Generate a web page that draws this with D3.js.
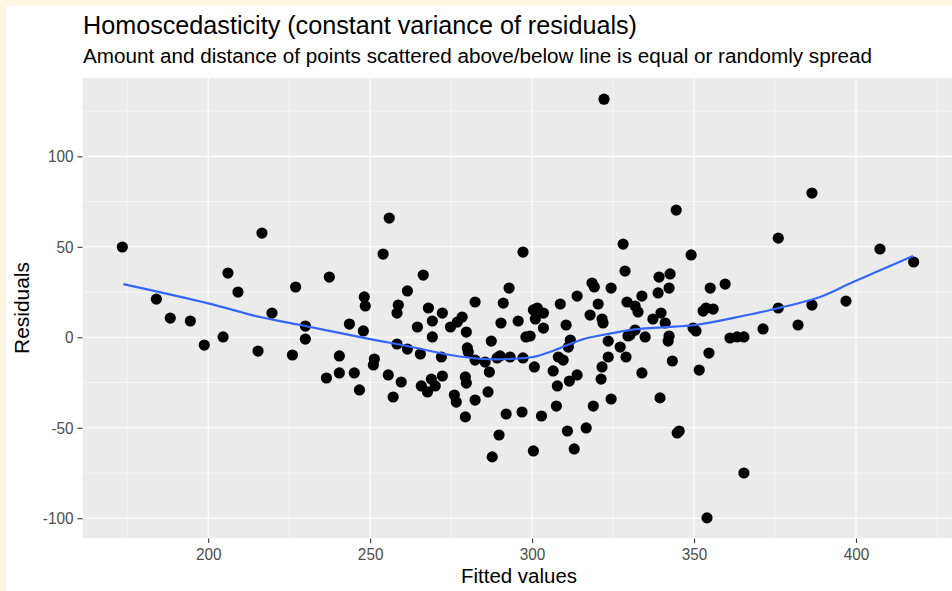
<!DOCTYPE html>
<html>
<head>
<meta charset="utf-8">
<script src="https://cdn.jsdelivr.net/npm/d3@7"></script>
<style>
  body { margin: 0; padding: 0; background: #fdf6e3; }
  svg { display: block; }
  text { font-family: "Liberation Sans", Arial, sans-serif; }
</style>
</head>
<body>
<div id="chart"></div>
<script>

// fitted values (x) and residuals (y)
var fittedValues = [
  173.5, 184.0, 188.3, 194.5, 198.8, 204.6, 206.1, 209.2, 216.6, 215.4,
  219.7, 226.0, 227.0, 230.0, 230.0, 237.4, 236.5, 240.5, 240.5, 243.6,
  245.1, 246.7, 247.9, 248.2, 248.5, 251.3, 251.0, 254.0, 255.9, 255.6,
  258.3, 258.7, 258.3, 259.6, 257.1, 261.5, 261.5, 264.6, 265.5, 265.8,
  266.4, 268.0, 267.7, 268.9, 270.1, 269.2, 269.2, 272.0, 272.3, 272.3,
  274.8, 276.9, 278.4, 276.0, 276.6, 279.7, 280.0, 280.3, 279.4, 279.7,
  279.4, 282.4, 282.4, 282.4, 285.5, 286.8, 286.4, 287.4, 287.7, 289.2,
  290.1, 289.8, 290.4, 291.1, 292.0, 292.9, 293.2, 295.7, 296.9, 297.2,
  297.2, 298.1, 299.4, 300.4, 301.6, 303.5, 301.0, 303.5, 300.7, 300.4,
  302.9, 306.5, 307.8, 307.5, 308.1, 309.6, 308.7, 310.5, 310.9, 311.2,
  311.8, 311.5, 313.0, 313.9, 313.9, 316.7, 317.9, 318.5, 319.2, 318.9,
  320.4, 321.6, 321.9, 321.6, 321.3, 322.2, 323.5, 323.5, 324.4, 324.4,
  327.2, 328.1, 328.7, 329.3, 329.6, 329.0, 331.8, 332.7, 333.9, 331.8,
  330.2, 334.9, 333.9, 337.3, 338.9, 339.2, 339.8, 339.5, 341.1, 342.3,
  342.6, 342.3, 342.0, 343.3, 344.5, 344.8, 345.4, 349.1, 349.7, 350.6,
  351.6, 352.8, 353.7, 355.9, 355.0, 354.6, 354.0, 359.6, 361.1, 363.3,
  365.4, 365.4, 371.3, 376.0, 376.0, 382.1, 386.4, 386.4, 396.9, 407.4,
  417.8
];
var residuals = [
  49.9, 21.1, 10.6, 9.0, -4.3, 0.2, 35.5, 25.0, 57.6, -7.6,
  13.4, -9.8, 27.8, 6.2, -1.0, 33.3, -22.5, -10.3, -19.7, 7.3,
  -19.7, -29.1, 3.5, 22.3, 17.3, -12.0, -15.3, 46.0, 65.9, -20.8,
  13.4, 17.8, -3.7, -24.7, -33.0, 25.6, -6.5, 5.7, -9.2, -26.9,
  34.4, 16.2, -30.2, -23.1, -26.9, 9.0, 0.2, -10.9, 13.4, -21.4,
  5.7, 8.4, 11.2, -31.9, -35.8, 2.9, -5.9, -8.1, -21.9, -25.3,
  -44.0, 19.5, -12.6, -34.7, -13.7, -19.2, -30.2, -2.1, -66.1, -11.4,
  -10.3, -54.0, 7.9, 18.9, -42.4, 27.2, -10.9, 9.0, -41.3, 47.1,
  -11.4, 0.2, 0.7, 15.1, 16.2, 13.4, 10.1, 5.1, -16.4, -62.8,
  -43.5, -18.6, -26.9, -38.0, -10.9, -12.6, 18.4, 6.8, -51.8, -5.4,
  -1.5, -24.2, -61.7, 22.8, -20.8, -50.1, 12.3, 30.0, 27.8, -38.0,
  18.4, 10.1, 7.9, -16.4, -23.1, 131.6, -2.1, -10.9, 27.2, -34.1,
  -5.4, 51.5, 36.6, 19.5, 0.7, -10.9, 17.3, 14.0, 22.8, 4.0,
  1.3, 0.2, -19.7, 10.1, 24.5, 33.3, 13.4, -33.5, 7.9, 27.2,
  35.0, 0.7, -2.1, -13.1, 70.3, -52.9, -51.8, 45.5, 5.1, 3.5,
  -18.1, 14.5, 16.2, 15.6, 27.2, -8.7, -99.8, 29.4, -0.4, 0.2,
  0.2, -75.0, 4.6, 54.8, 16.2, 6.8, 79.7, 17.8, 20.0, 48.8,
  41.6
];

// loess smooth
var smoothX = [173.8, 199.7, 216.0, 228.4, 250.0, 261.4, 274.8, 284.9, 293.2, 300.3,
               305.5, 310.9, 315.8, 323.2, 330.2, 340.0, 350.3, 362.9, 373.5, 388.9,
               399.1, 417.6];
var smoothY = [29.4, 18.9, 11.2, 6.8, -1.0, -4.8, -9.8, -12.0, -12.0, -10.9,
               -8.1, -4.3, -1.0, 1.8, 4.0, 5.5, 6.8, 11.0, 15.1, 22.3,
               30.5, 44.9];

var xTicks = [200, 250, 300, 350, 400];
var xMinor = [175, 225, 275, 325, 375, 425];
var yTicks = [-100, -50, 0, 50, 100];
var yMinor = [-75, -25, 25, 75, 125];

var titleText = "Homoscedasticity (constant variance of residuals)";
var subtitleText = "Amount and distance of points scattered above/below line is equal or randomly spread";

var svgWidth = 952;
var svgHeight = 591;

// panel box in pixels
var panel = { left: 82.5, right: 953.5, top: 78, bottom: 538.5 };

var svg = d3.select("#chart")
  .append("svg")
  .attr("width", svgWidth)
  .attr("height", svgHeight);

// cream frame + white plot area
svg.append("rect")
  .attr("width", svgWidth).attr("height", svgHeight)
  .attr("fill", "#fdf6e3");
svg.append("rect")
  .attr("x", 6).attr("y", 6)
  .attr("width", svgWidth - 6).attr("height", svgHeight - 6)
  .attr("fill", "#ffffff");

var x = d3.scaleLinear()
  .domain([161.2, 430.1])
  .range([panel.left, panel.right]);

var y = d3.scaleLinear()
  .domain([-111.2, 143.3])
  .range([panel.bottom, panel.top]);

svg.append("clipPath").attr("id", "panelClip")
  .append("rect")
  .attr("x", panel.left).attr("y", panel.top)
  .attr("width", panel.right - panel.left)
  .attr("height", panel.bottom - panel.top);

var plot = svg.append("g").attr("clip-path", "url(#panelClip)");

plot.append("rect")
  .attr("x", panel.left).attr("y", panel.top)
  .attr("width", panel.right - panel.left)
  .attr("height", panel.bottom - panel.top)
  .attr("fill", "#ebebeb");

// minor grid
plot.selectAll(".xminor").data(xMinor).enter().append("line")
  .attr("x1", d => x(d)).attr("x2", d => x(d))
  .attr("y1", panel.top).attr("y2", panel.bottom)
  .attr("stroke", "#ffffff").attr("stroke-width", 0.55);
plot.selectAll(".yminor").data(yMinor).enter().append("line")
  .attr("y1", d => y(d)).attr("y2", d => y(d))
  .attr("x1", panel.left).attr("x2", panel.right)
  .attr("stroke", "#ffffff").attr("stroke-width", 0.55);

// major grid
plot.selectAll(".xmajor").data(xTicks).enter().append("line")
  .attr("x1", d => x(d)).attr("x2", d => x(d))
  .attr("y1", panel.top).attr("y2", panel.bottom)
  .attr("stroke", "#ffffff").attr("stroke-width", 1.1);
plot.selectAll(".ymajor").data(yTicks).enter().append("line")
  .attr("y1", d => y(d)).attr("y2", d => y(d))
  .attr("x1", panel.left).attr("x2", panel.right)
  .attr("stroke", "#ffffff").attr("stroke-width", 1.1);

// points
var points = fittedValues.map(function(v, i) { return { fitted: v, resid: residuals[i] }; });

plot.selectAll(".dot")
  .data(points)
  .enter()
  .append("circle")
  .attr("class", "dot")
  .attr("cx", d => x(d.fitted))
  .attr("cy", d => y(d.resid))
  .attr("r", 5.6)
  .attr("fill", "#000000");

// smooth line
var smooth = smoothX.map(function(v, i) { return [v, smoothY[i]]; });
var line = d3.line()
  .x(d => x(d[0]))
  .y(d => y(d[1]))
  .curve(d3.curveCatmullRom);

plot.append("path")
  .datum(smooth)
  .attr("d", line)
  .attr("fill", "none")
  .attr("stroke", "#3366ff")
  .attr("stroke-width", 2.2);

// squeeze text horizontally (the reference font is a bit narrow)
function squeeze(sel, factor) {
  sel.each(function() {
    var w = this.getComputedTextLength();
    d3.select(this)
      .attr("textLength", w * factor)
      .attr("lengthAdjust", "spacingAndGlyphs");
  });
}

// axes (plain hyphen for negatives, like R)
var bottomAxis = d3.axisBottom(x).tickValues(xTicks).tickSize(4.5).tickPadding(5.3)
  .tickFormat(d => String(d));
var leftAxis = d3.axisLeft(y).tickValues(yTicks).tickSize(5).tickPadding(4)
  .tickFormat(d => String(d));

var gx = svg.append("g")
  .attr("transform", `translate(0, ${panel.bottom})`)
  .call(bottomAxis);
var gy = svg.append("g")
  .attr("transform", `translate(${panel.left}, 0)`)
  .call(leftAxis);

[gx, gy].forEach(function(g) {
  g.select(".domain").remove();
  g.selectAll(".tick line").attr("stroke", "#333333").attr("stroke-width", 1.1);
  g.selectAll(".tick text")
    .attr("fill", "#4d4d4d")
    .style("font-size", "17px")
    .style("font-family", "Liberation Sans, Arial, sans-serif");
  squeeze(g.selectAll(".tick text"), 0.9);
});

// titles
svg.append("text")
  .attr("x", 83).attr("y", 34.3)
  .style("font-size", "25.5px")
  .attr("fill", "#000000")
  .text(titleText)
  .attr("textLength", 554)
  .attr("lengthAdjust", "spacingAndGlyphs");

svg.append("text")
  .attr("x", 83).attr("y", 63.3)
  .style("font-size", "19.5px")
  .attr("fill", "#000000")
  .text(subtitleText)
  .attr("textLength", 789)
  .attr("lengthAdjust", "spacingAndGlyphs");

svg.append("text")
  .attr("x", 519).attr("y", 583)
  .attr("text-anchor", "middle")
  .style("font-size", "19.5px")
  .attr("fill", "#000000")
  .text("Fitted values")
  .attr("textLength", 116)
  .attr("lengthAdjust", "spacingAndGlyphs");

svg.append("text")
  .attr("transform", `translate(29, 308) rotate(-90)`)
  .attr("text-anchor", "middle")
  .style("font-size", "19.5px")
  .attr("fill", "#000000")
  .text("Residuals")
  .attr("textLength", 92)
  .attr("lengthAdjust", "spacingAndGlyphs");

</script>
</body>
</html>
